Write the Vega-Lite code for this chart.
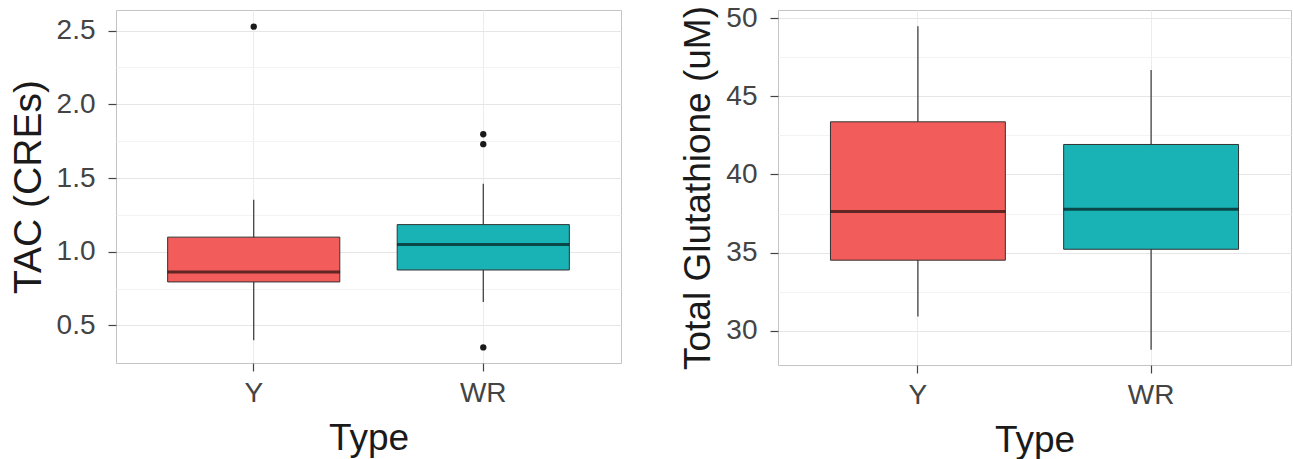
{
  "$schema": "https://vega.github.io/schema/vega-lite/v6.json",
  "background": "white",
  "padding": {"left": 8, "top": 3, "right": 0, "bottom": 0},
  "spacing": 157,
  "bounds": "flush",
  "datasets": {
    "tac_box": [
      {"Type": "Y", "lower": 0.40, "q1": 0.795, "median": 0.862, "q3": 1.099, "upper": 1.353},
      {"Type": "WR", "lower": 0.659, "q1": 0.876, "median": 1.049, "q3": 1.184, "upper": 1.461}
    ],
    "tac_out": [
      {"Type": "Y", "value": 2.527},
      {"Type": "WR", "value": 1.797},
      {"Type": "WR", "value": 1.73},
      {"Type": "WR", "value": 0.351}
    ],
    "gsh_box": [
      {"Type": "Y", "lower": 30.9, "q1": 34.51, "median": 37.63, "q3": 43.37, "upper": 49.49},
      {"Type": "WR", "lower": 28.78, "q1": 35.21, "median": 37.78, "q3": 41.92, "upper": 46.69}
    ]
  },
  "hconcat": [
    {
      "width": 505,
      "height": 353,
      "layer": [
        {
          "data": {"name": "tac_box"},
          "mark": {"type": "rule", "color": "#333333", "strokeWidth": 1.2},
          "encoding": {
            "x": {"field": "Type", "type": "nominal", "sort": ["Y", "WR"],
              "scale": {"type": "band", "paddingInner": 0.25, "paddingOuter": 0.225},
              "axis": {"title": "Type"}},
            "y": {"field": "lower", "type": "quantitative",
              "scale": {"domain": [0.245, 2.64], "nice": false, "zero": false},
              "axis": {"title": "TAC (CREs)", "titleFontSize": 39,
                "values": [0.5, 0.75, 1, 1.25, 1.5, 1.75, 2, 2.25, 2.5],
                "labelExpr": "datum.value % 0.5 === 0 ? format(datum.value, '.1f') : ''",
                "gridColor": {"condition": {"test": "datum.value % 0.5 === 0", "value": "#e6e6e6"}, "value": "#f3f3f3"},
                "tickOpacity": {"condition": {"test": "datum.value % 0.5 === 0", "value": 1}, "value": 0}}},
            "y2": {"field": "upper"}
          }
        },
        {
          "data": {"name": "tac_box"},
          "mark": {"type": "bar", "stroke": "#333333", "strokeWidth": 1},
          "encoding": {
            "x": {"field": "Type", "type": "nominal", "sort": ["Y", "WR"]},
            "y": {"field": "q1", "type": "quantitative"},
            "y2": {"field": "q3"},
            "color": {"field": "Type", "type": "nominal",
              "scale": {"domain": ["Y", "WR"], "range": ["#F25C5A", "#19B2B5"]}, "legend": null}
          }
        },
        {
          "data": {"name": "tac_box"},
          "mark": {"type": "bar", "fillOpacity": 0, "stroke": "black", "strokeOpacity": 0.6, "strokeWidth": 3},
          "encoding": {
            "x": {"field": "Type", "type": "nominal", "sort": ["Y", "WR"]},
            "y": {"field": "median", "type": "quantitative"},
            "y2": {"field": "median"}
          }
        },
        {
          "data": {"name": "tac_out"},
          "mark": {"type": "circle", "size": 40, "color": "#1a1a1a", "opacity": 1},
          "encoding": {
            "x": {"field": "Type", "type": "nominal", "sort": ["Y", "WR"]},
            "y": {"field": "value", "type": "quantitative"}
          }
        }
      ]
    },
    {
      "width": 513,
      "height": 355,
      "layer": [
        {
          "data": {"name": "gsh_box"},
          "mark": {"type": "rule", "color": "#333333", "strokeWidth": 1.2},
          "encoding": {
            "x": {"field": "Type", "type": "nominal", "sort": ["Y", "WR"],
              "scale": {"type": "band", "paddingInner": 0.25, "paddingOuter": 0.225},
              "axis": {"title": "Type"}},
            "y": {"field": "lower", "type": "quantitative",
              "scale": {"domain": [27.8, 50.53], "nice": false, "zero": false},
              "axis": {"title": "Total Glutathione (uM)",
                "values": [30, 32.5, 35, 37.5, 40, 42.5, 45, 47.5, 50],
                "labelExpr": "datum.value % 5 === 0 ? format(datum.value, 'd') : ''",
                "gridColor": {"condition": {"test": "datum.value % 5 === 0", "value": "#e6e6e6"}, "value": "#f3f3f3"},
                "tickOpacity": {"condition": {"test": "datum.value % 5 === 0", "value": 1}, "value": 0}}},
            "y2": {"field": "upper"}
          }
        },
        {
          "data": {"name": "gsh_box"},
          "mark": {"type": "bar", "stroke": "#333333", "strokeWidth": 1},
          "encoding": {
            "x": {"field": "Type", "type": "nominal", "sort": ["Y", "WR"]},
            "y": {"field": "q1", "type": "quantitative"},
            "y2": {"field": "q3"},
            "color": {"field": "Type", "type": "nominal",
              "scale": {"domain": ["Y", "WR"], "range": ["#F25C5A", "#19B2B5"]}, "legend": null}
          }
        },
        {
          "data": {"name": "gsh_box"},
          "mark": {"type": "bar", "fillOpacity": 0, "stroke": "black", "strokeOpacity": 0.6, "strokeWidth": 3},
          "encoding": {
            "x": {"field": "Type", "type": "nominal", "sort": ["Y", "WR"]},
            "y": {"field": "median", "type": "quantitative"},
            "y2": {"field": "median"}
          }
        }
      ]
    }
  ],
  "config": {
    "font": "Liberation Sans",
    "view": {"stroke": "#c4c4c4", "strokeWidth": 1},
    "axis": {
      "labelFont": "Liberation Sans",
      "titleFont": "Liberation Sans",
      "labelFontSize": 28,
      "labelColor": "#444444",
      "titleFontSize": 37,
      "titleFontWeight": "normal",
      "titleColor": "#1a1a1a",
      "tickColor": "#444444",
      "tickSize": 8,
      "tickWidth": 1.2,
      "domain": false,
      "grid": true,
      "gridColor": "#ececec",
      "labelPadding": 13,
      "titlePadding": 8
    },
    "axisX": {"labelAngle": 0, "labelPadding": 8, "titlePadding": 13}
  }
}
